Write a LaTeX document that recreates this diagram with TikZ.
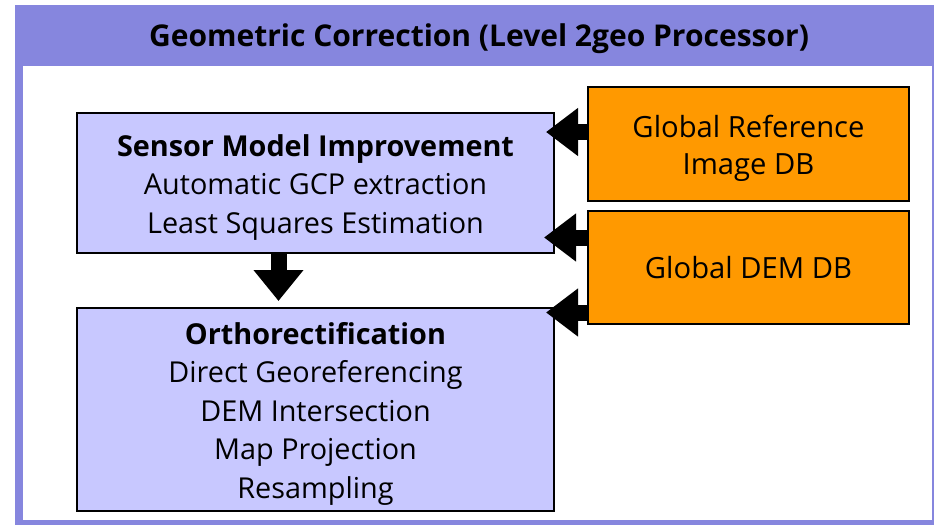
\documentclass[tikz,border=0pt]{standalone}
\usepackage{fontspec}
\setmainfont{Open Sans}
\usetikzlibrary{arrows.meta}
\definecolor{framec}{HTML}{8686DE}
\definecolor{boxc}{HTML}{C8C8FF}
\definecolor{dbc}{HTML}{FF9900}
\newcommand{\lowstrut}{\rule{0pt}{30.5pt}}
\tikzset{
  procbox/.style={draw=black, line width=2pt, fill=boxc, align=center, inner sep=0pt,
    minimum width=477pt, font=\fontsize{28.8}{38.6}\selectfont},
  dbbox/.style={draw=black, line width=2pt, fill=dbc, align=center, inner sep=0pt,
    minimum width=321pt, font=\fontsize{29.2}{37}\selectfont},
  blockarrow/.style={line width=16pt, -{Triangle[length=32pt,width=46pt]}},
}
\begin{document}
\begin{tikzpicture}[x=1pt,y=-1pt]
        \useasboundingbox (0,0) rectangle (934,525);
        \fill[framec] (15,5) rectangle (934,525);
        \fill[white] (23,66) rectangle (932,520);
        \node[font=\fontsize{30}{32}\selectfont\bfseries] (title) at (479,39) {Geometric Correction (Level 2geo Processor)};
        \node[procbox, minimum height=140pt] (sensor) at (315.5,183) {\lowstrut\textbf{Sensor Model Improvement}\\Automatic GCP extraction\\Least Squares Estimation};
        \node[procbox, minimum height=203pt] (ortho) at (315.5,409.5) {\lowstrut\textbf{Orthorectification}\\Direct Georeferencing\\DEM Intersection\\Map Projection\\Resampling};
        \node[dbbox, minimum height=114pt] (refdb) at (748.5,144) {\lowstrut Global Reference\\Image DB};
        \node[dbbox, minimum height=113pt] (demdb) at (748.5,267.5) {Global DEM DB};
        \draw[blockarrow, shorten >=-9pt] ([yshift=12pt]refdb.west) -- ([yshift=12pt]refdb.west -| sensor.east);
        \draw[blockarrow, shorten >=-11pt] ([yshift=30pt]demdb.west) -- ([yshift=30pt]demdb.west -| sensor.east);
        \draw[blockarrow, shorten >=-9pt] ([yshift=-45pt]demdb.west) -- ([yshift=-45pt]demdb.west -| ortho.east);
        \draw[line width=16pt, -{Triangle[length=31pt,width=48pt]}, shorten >=6pt] ([xshift=-37pt]sensor.south) -- ([xshift=-37pt]ortho.north);
        \end{tikzpicture}
\end{document}
